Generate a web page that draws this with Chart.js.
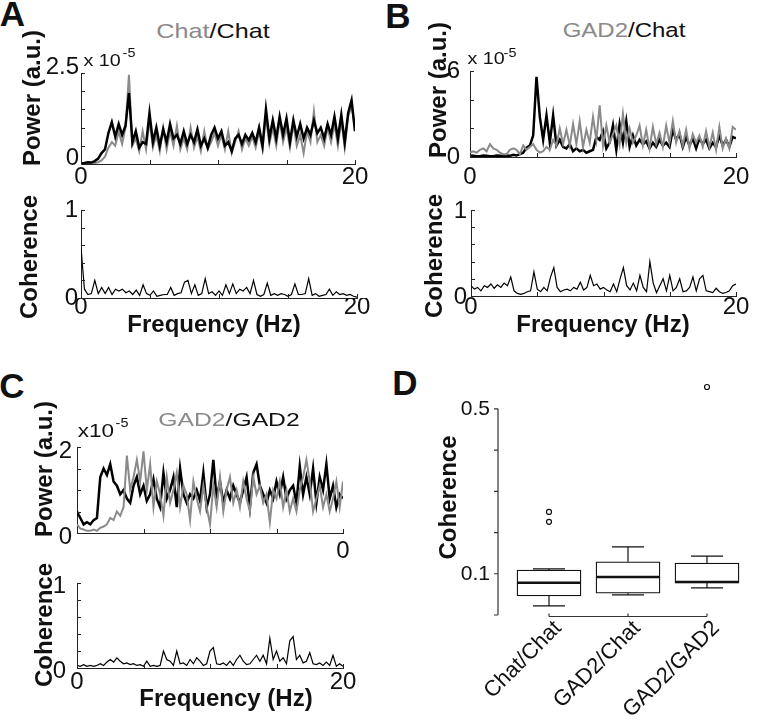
<!DOCTYPE html>
<html>
<head>
<meta charset="utf-8">
<script src="https://cdn.jsdelivr.net/npm/chart.js"></script>
<style>
body { margin: 0; background: #fff; }
#fig { position: relative; width: 758px; height: 721px; overflow: hidden; font-family: "Liberation Sans", Arial, sans-serif; color: #111; }
#fig canvas { position: absolute; }
.t { position: absolute; white-space: nowrap; line-height: 1; }
</style>
</head>
<body>
<div id="fig"></div>
<script>
// frequency axis of every spectrum (Hz)
var freqs = [0,0.25,0.5,0.75,1,1.25,1.5,1.75,2,2.25,2.5,2.75,3,3.25,3.5,3.75,4,4.25,4.5,4.75,
    5,5.25,5.5,5.75,6,6.25,6.5,6.75,7,7.25,7.5,7.75,8,8.25,8.5,8.75,9,9.25,9.5,9.75,
    10,10.25,10.5,10.75,11,11.25,11.5,11.75,12,12.25,12.5,12.75,13,13.25,13.5,13.75,14,14.25,14.5,14.75,
    15,15.25,15.5,15.75,16,16.25,16.5,16.75,17,17.25,17.5,17.75,18,18.25,18.5,18.75,19,19.25,19.5,19.75,20];

// power spectra, in units of 1e-5
var powerA_chat1 = [0.01,0.01,0.02,0.02,0.03,0.05,0.1,0.2,0.45,0.6,
    0.5,0.9,0.55,1.0,2.45,0.5,0.7,0.35,0.9,0.4,
    1.2,0.45,0.8,0.35,1.0,0.4,0.9,0.5,1.05,0.4,
    0.7,0.4,1.0,0.45,0.75,0.35,0.9,0.4,0.6,0.85,
    0.5,0.8,0.4,0.9,0.3,0.6,0.9,0.4,0.7,0.5,
    0.75,0.45,0.9,0.4,1.3,0.55,1.0,0.5,1.2,0.6,
    1.0,0.45,1.1,0.5,0.8,0.3,0.9,0.6,1.45,0.6,
    0.8,0.5,1.0,0.6,1.1,0.5,1.2,0.45,1.3,1.6,1.0];
var powerA_chat2 = [0.02,0.03,0.05,0.04,0.08,0.15,0.3,0.4,0.85,1.15,
    0.75,1.1,0.8,1.05,1.95,0.6,0.9,0.45,0.6,0.55,
    1.4,0.6,1.0,0.5,0.95,0.6,1.1,0.7,0.8,0.55,
    0.9,0.55,0.8,0.6,0.95,0.5,0.7,0.45,0.8,1.0,
    0.7,0.9,0.5,0.6,0.35,0.7,0.8,0.55,0.8,0.65,
    0.85,0.6,1.0,0.5,1.5,0.7,1.2,0.7,1.3,0.8,
    1.25,0.6,1.2,0.75,1.1,0.7,1.0,0.8,1.2,0.85,
    1.0,0.7,1.1,0.8,1.3,0.7,1.35,0.6,1.4,1.75,0.9];
var powerB_gad2 = [0.3,0.4,0.3,0.5,0.6,0.4,0.9,0.6,0.5,0.3,
    0.2,0.2,0.5,0.6,0.5,0.2,0.8,0.5,0.7,0.9,
    0.5,0.3,0.4,0.7,0.5,1.2,0.8,2.0,0.9,1.9,
    0.8,2.3,0.9,2.5,0.7,1.9,1.0,2.8,1.2,3.6,
    0.8,2.2,1.0,1.6,2.2,0.9,3.0,1.0,2.0,1.0,
    1.5,2.2,0.8,1.9,0.6,2.1,0.9,1.7,0.7,2.2,
    1.0,2.5,1.0,1.8,0.8,1.9,0.6,1.6,1.0,1.5,
    0.7,1.8,0.7,1.7,0.5,2.1,0.6,1.3,0.6,2.1,1.9];
var powerB_chat = [0.1,0.08,0.05,0.05,0.1,0.08,0.05,0.06,0.1,0.08,
    0.05,0.1,0.08,0.15,0.1,0.2,0.3,0.65,0.8,1.5,
    5.6,2.8,1.2,2.9,1.0,2.9,0.8,1.2,0.7,0.6,
    0.9,0.4,0.6,0.4,0.5,0.3,0.4,0.5,1.4,1.2,
    1.8,0.6,1.0,2.2,0.5,2.3,1.0,2.5,0.7,1.5,
    0.8,1.2,0.9,1.1,0.6,1.0,0.7,1.2,0.8,1.0,
    0.7,1.9,1.2,1.6,0.7,1.4,0.8,1.3,0.6,1.3,
    0.9,1.2,0.6,1.0,0.7,1.5,0.8,1.2,0.7,1.4,1.3];
var powerC_gad2a = [0.2,0.1,0.08,0.05,0.05,0.08,0.05,0.12,0.15,0.2,
    0.35,0.3,0.5,0.4,0.6,1.8,1.0,1.3,1.7,1.2,
    1.9,1.0,1.6,0.6,1.2,0.9,0.4,1.3,0.7,1.0,
    1.4,0.6,1.1,0.9,0.3,1.2,0.8,0.5,1.1,0.6,
    0.2,1.1,0.6,1.3,0.5,1.0,1.3,0.7,1.0,0.6,
    1.2,0.8,0.5,1.3,0.9,1.1,0.7,0.9,0.25,1.0,
    0.8,1.2,0.6,1.0,0.5,0.8,0.5,1.0,1.3,1.7,
    1.2,0.5,0.8,1.1,0.6,0.9,0.5,0.8,1.2,0.6,1.2];
var powerC_gad2b = [0.5,0.35,0.2,0.25,0.2,0.3,0.35,1.3,1.5,1.35,
    1.6,1.2,1.1,0.9,1.0,0.8,0.7,1.1,1.3,0.9,
    1.1,0.75,0.9,1.25,0.8,0.6,1.4,0.8,1.0,1.3,
    0.6,1.5,0.9,0.7,0.9,0.8,1.0,0.75,1.4,0.6,
    0.9,1.7,0.8,1.2,0.7,1.0,0.8,1.1,0.9,0.7,
    1.0,1.3,0.6,1.4,1.6,1.1,0.9,0.7,1.0,0.8,
    1.2,0.9,1.3,0.8,1.0,1.1,0.7,1.55,0.9,1.3,
    0.9,1.5,0.7,1.3,1.0,1.6,0.8,1.1,0.6,0.9,0.8];

// coherence spectra
var cohA = [0.57,0.1,0.04,0.05,0.2,0.05,0.12,0.05,0.12,0.04,
    0.1,0.08,0.1,0.06,0.08,0.04,0.09,0.03,0.15,0.05,
    0.03,0.08,0.02,0.03,0.04,0.04,0.12,0.03,0.05,0.06,
    0.18,0.2,0.05,0.15,0.03,0.05,0.22,0.05,0.07,0.03,
    0.08,0.03,0.15,0.05,0.16,0.05,0.1,0.08,0.12,0.05,
    0.2,0.04,0.02,0.04,0.17,0.03,0.05,0.03,0.05,0.04,
    0.02,0.04,0.16,0.04,0.04,0.05,0.22,0.03,0.05,0.02,
    0.03,0.04,0.1,0.03,0.07,0.04,0.05,0.03,0.04,0.02,0.01];
var cohB = [0.12,0.08,0.1,0.06,0.12,0.1,0.14,0.09,0.13,0.1,
    0.15,0.12,0.22,0.06,0.03,0.02,0.03,0.05,0.06,0.28,
    0.08,0.05,0.1,0.06,0.22,0.33,0.1,0.05,0.07,0.08,
    0.06,0.1,0.08,0.16,0.07,0.1,0.24,0.12,0.14,0.08,
    0.1,0.07,0.05,0.14,0.05,0.2,0.33,0.12,0.07,0.15,
    0.06,0.24,0.1,0.05,0.4,0.15,0.04,0.12,0.2,0.06,
    0.24,0.06,0.1,0.2,0.05,0.06,0.1,0.22,0.06,0.2,
    0.24,0.06,0.05,0.04,0.09,0.05,0.03,0.04,0.06,0.12,0.14];
var cohC = [0.03,0.02,0.04,0.02,0.03,0.02,0.03,0.05,0.03,0.07,
    0.1,0.07,0.12,0.08,0.05,0.06,0.04,0.05,0.03,0.04,
    0.02,0.08,0.02,0.03,0.02,0.03,0.2,0.1,0.08,0.03,
    0.2,0.05,0.06,0.03,0.1,0.05,0.12,0.08,0.03,0.05,
    0.2,0.24,0.05,0.04,0.06,0.03,0.08,0.03,0.1,0.15,
    0.08,0.04,0.05,0.1,0.15,0.08,0.15,0.05,0.35,0.1,
    0.2,0.08,0.12,0.05,0.32,0.37,0.1,0.15,0.06,0.08,
    0.18,0.05,0.04,0.06,0.03,0.07,0.03,0.15,0.02,0.05,0.02];

// tick values and their labels
var freqTicks = [0, 5, 10, 15, 20];
var freqTickText = ['0', '', '', '', '20'];
var freqTickTextC = ['', '', '', '', '0'];
var powerTicksA = [0, 0.5, 1, 1.5, 2, 2.5];
var powerTextA = ['0', '', '', '', '', '2.5'];
var powerTicksB = [0, 2, 4, 6];
var powerTextB = ['0', '', '', '6'];
var powerTicksC = [0, 0.5, 1, 1.5, 2];
var powerTextC = ['0', '', '', '', '2'];
var cohTicks = [0, 0.2, 0.4, 0.6, 0.8, 1];
var cohText = ['0', '', '', '', '', '1'];

// panel D box plot summary
var pairs = ['Chat/Chat', 'GAD2/Chat', 'GAD2/GAD2'];
var boxMin = [0.022, 0.049, 0.066];
var boxQ1 = [0.046, 0.053, 0.078];
var boxMedian = [0.078, 0.092, 0.080];
var boxQ3 = [0.109, 0.129, 0.126];
var boxMax = [0.112, 0.165, 0.143];
var boxOutliers = [[0.226, 0.25], [], [0.553]];
var cohBoxTicks = [0, 0.1, 0.2, 0.3, 0.4, 0.5];
var cohBoxText = ['', '0.1', '', '', '', '0.5'];

var fig = document.getElementById('fig');
var grey = '#8a8a8a';
var axisColor = '#222';
Chart.defaults.font.family = '"Liberation Sans", Arial, sans-serif';
Chart.defaults.color = '#111';

// matlab style ticks that point into the plot
var inwardTicks = {
    id: 'inwardTicks',
    afterDraw: function (chart) {
        var ctx = chart.ctx, a = chart.chartArea, x = chart.scales.x, y = chart.scales.y;
        ctx.save();
        ctx.strokeStyle = axisColor;
        ctx.lineWidth = 1;
        ctx.beginPath();
        x.ticks.forEach(function (t) {
            var px = Math.round(x.getPixelForValue(t.value)) + 0.5;
            ctx.moveTo(px, a.bottom);
            ctx.lineTo(px, a.bottom - 4);
        });
        y.ticks.forEach(function (t) {
            var py = Math.round(y.getPixelForValue(t.value)) + 0.5;
            ctx.moveTo(a.left, py);
            ctx.lineTo(a.left + 4, py);
        });
        ctx.stroke();
        ctx.restore();
    }
};

function addText(html, x, y, size, opt) {
    opt = opt || {};
    var d = document.createElement('div');
    d.className = 't';
    d.innerHTML = html;
    d.style.left = x + 'px';
    d.style.top = y + 'px';
    d.style.fontSize = size + 'px';
    d.style.fontWeight = opt.bold ? 'bold' : 'normal';
    if (opt.color) d.style.color = opt.color;
    d.style.transform = 'translate(-50%,-50%) rotate(' + (opt.rot || 0) + 'deg) scaleX(' + (opt.sx || 1) + ')';
    fig.appendChild(d);
}

// one spectrum panel, placed so its plot area is exactly "area"
// (top padding has to be larger than the half label + tick padding chart.js reserves)
function lineChart(area, datasets, yTicks, yText, xText, pad) {
    var wy = 40, hx = 34, padTop = 30, padRight = 26;
    var w = area.r - area.l + wy + padRight;
    var h = area.b - area.t + padTop + hx;
    var cv = document.createElement('canvas');
    cv.width = w; cv.height = h;
    cv.style.left = (area.l - wy) + 'px';
    cv.style.top = (area.t - padTop) + 'px';
    cv.style.width = w + 'px'; cv.style.height = h + 'px';
    fig.appendChild(cv);

    return new Chart(cv, {
        type: 'line',
        data: { labels: freqs, datasets: datasets },
        options: {
            responsive: false,
            animation: false,
            layout: { autoPadding: false, padding: { top: padTop, right: padRight, left: 0, bottom: 0 } },
            plugins: { legend: { display: false }, tooltip: { enabled: false } },
            elements: { point: { radius: 0 }, line: { tension: 0 } },
            scales: {
                x: {
                    type: 'linear', min: 0, max: 20,
                    afterFit: function (s) { s.height = hx; },
                    afterBuildTicks: function (s) { s.ticks = freqTicks.map(function (v) { return { value: v }; }); },
                    grid: { display: false, drawTicks: false },
                    border: { display: true, color: axisColor, width: 1 },
                    ticks: {
                        autoSkip: false, maxRotation: 0, padding: pad.x,
                        font: { size: 24, lineHeight: 1 },
                        callback: function (v, i) { return xText[i]; }
                    }
                },
                y: {
                    min: 0, max: yTicks[yTicks.length - 1],
                    afterFit: function (s) { s.width = wy; },
                    afterBuildTicks: function (s) { s.ticks = yTicks.map(function (v) { return { value: v }; }); },
                    grid: { display: false, drawTicks: false },
                    border: { display: true, color: axisColor, width: 1 },
                    ticks: {
                        autoSkip: false, padding: pad.y, labelOffset: pad.off,
                        font: { size: 24, lineHeight: 1 },
                        callback: function (v, i) { return yText[i]; }
                    }
                }
            }
        },
        plugins: [inwardTicks]
    });
}

function blackLine(d) { return { data: d, borderColor: '#000', borderWidth: 2.5 }; }
function greyLine(d) { return { data: d, borderColor: grey, borderWidth: 2 }; }
function cohLine(d) { return { data: d, borderColor: '#000', borderWidth: 1.2 }; }

// A
lineChart({ l: 81, r: 355, t: 73, b: 164 }, [blackLine(powerA_chat2), greyLine(powerA_chat1)],
    powerTicksA, powerTextA, freqTickText, { x: 1, y: 2, off: -6 });
lineChart({ l: 81, r: 357, t: 210, b: 298 }, [cohLine(cohA)],
    cohTicks, cohText, freqTickText, { x: -3, y: 3, off: 0 });
// B
lineChart({ l: 470, r: 736, t: 71, b: 157 }, [greyLine(powerB_gad2), blackLine(powerB_chat)],
    powerTicksB, powerTextB, freqTickText, { x: 8, y: 10, off: 0 });
lineChart({ l: 471, r: 736, t: 210, b: 296 }, [cohLine(cohB)],
    cohTicks, cohText, freqTickText, { x: -1, y: 4, off: 1 });
// C
lineChart({ l: 77, r: 343, t: 447, b: 533 }, [greyLine(powerC_gad2a), blackLine(powerC_gad2b)],
    powerTicksC, powerTextC, freqTickTextC, { x: 6, y: 5, off: 4 });
lineChart({ l: 77, r: 343, t: 583, b: 668 }, [cohLine(cohC)],
    cohTicks, cohText, freqTickText, { x: 2, y: 11, off: 3 });

// D: box plot, boxes are floating bars, whiskers and medians drawn from the scales
var boxParts = {
    id: 'boxParts',
    afterDatasetsDraw: function (chart) {
        var ctx = chart.ctx, a = chart.chartArea, x = chart.scales.x, y = chart.scales.y;
        ctx.save();
        ctx.strokeStyle = '#111';
        pairs.forEach(function (p, i) {
            var cx = x.getPixelForValue(i);
            ctx.lineWidth = 1.2;
            ctx.beginPath();
            ctx.moveTo(cx, y.getPixelForValue(boxQ3[i]));
            ctx.lineTo(cx, y.getPixelForValue(boxMax[i]));
            ctx.moveTo(cx, y.getPixelForValue(boxQ1[i]));
            ctx.lineTo(cx, y.getPixelForValue(boxMin[i]));
            ctx.moveTo(cx - 16, y.getPixelForValue(boxMax[i]));
            ctx.lineTo(cx + 16, y.getPixelForValue(boxMax[i]));
            ctx.moveTo(cx - 16, y.getPixelForValue(boxMin[i]));
            ctx.lineTo(cx + 16, y.getPixelForValue(boxMin[i]));
            ctx.stroke();
            ctx.lineWidth = 2.5;
            ctx.beginPath();
            ctx.moveTo(cx - 32, y.getPixelForValue(boxMedian[i]));
            ctx.lineTo(cx + 32, y.getPixelForValue(boxMedian[i]));
            ctx.stroke();
        });
        // detached axes, R style
        ctx.strokeStyle = '#333';
        ctx.lineWidth = 1.2;
        ctx.beginPath();
        var ax = a.left - 11.5;
        ctx.moveTo(ax, y.getPixelForValue(cohBoxTicks[0]));
        ctx.lineTo(ax, y.getPixelForValue(cohBoxTicks[cohBoxTicks.length - 1]));
        cohBoxTicks.forEach(function (v) {
            var py = y.getPixelForValue(v);
            ctx.moveTo(ax, py);
            ctx.lineTo(ax - 4, py);
        });
        var by = y.getPixelForValue(0) + 1.5;
        ctx.moveTo(x.getPixelForValue(0), by);
        ctx.lineTo(x.getPixelForValue(pairs.length - 1), by);
        pairs.forEach(function (p, i) {
            var px = x.getPixelForValue(i);
            ctx.moveTo(px, by);
            ctx.lineTo(px, by - 3);
        });
        ctx.stroke();
        ctx.restore();
    }
};

var outlierPts = [];
pairs.forEach(function (p, i) {
    boxOutliers[i].forEach(function (v) { outlierPts.push({ x: p, y: v }); });
});

var cvD = document.createElement('canvas');
cvD.width = 333; cvD.height = 371;
cvD.style.left = '430px'; cvD.style.top = '350px';
cvD.style.width = '333px'; cvD.style.height = '371px';
fig.appendChild(cvD);

new Chart(cvD, {
    type: 'bar',
    data: {
        labels: pairs,
        datasets: [
            {
                type: 'line', data: outlierPts, showLine: false, clip: false,
                pointRadius: 2.5, pointBorderWidth: 1.2,
                pointBackgroundColor: '#fff', pointBorderColor: '#111'
            },
            {
                data: pairs.map(function (p, i) { return [boxQ1[i], boxQ3[i]]; }),
                backgroundColor: '#fff', borderColor: '#111', borderWidth: 1.3,
                borderSkipped: false, barThickness: 64
            }
        ]
    },
    options: {
        responsive: false,
        animation: false,
        layout: { autoPadding: false, padding: { top: 30, right: 16.5, left: 0, bottom: 0 } },
        plugins: { legend: { display: false }, tooltip: { enabled: false } },
        scales: {
            x: {
                afterFit: function (s) { s.height = 106; },
                grid: { display: false, drawTicks: false },
                border: { display: false },
                ticks: { minRotation: 45, maxRotation: 45, padding: 2, labelOffset: 9, font: { size: 22, lineHeight: 1 } }
            },
            y: {
                min: 0, max: 0.57,
                afterFit: function (s) { s.width = 79.5; },
                afterBuildTicks: function (s) { s.ticks = cohBoxTicks.map(function (v) { return { value: v }; }); },
                grid: { display: false, drawTicks: false },
                border: { display: false },
                title: { display: true, text: 'Coherence', font: { size: 24, weight: 'bold', lineHeight: 1 }, padding: { top: 7, bottom: 0 } },
                ticks: {
                    padding: 19.5, font: { size: 21, lineHeight: 1 },
                    callback: function (v, i) { return cohBoxText[i]; }
                }
            }
        }
    },
    plugins: [boxParts]
});

// panel letters, titles and axis names
addText('A', 12.5, 12.5, 35, { bold: true });
addText('B', 398, 14.5, 35, { bold: true });
addText('C', 12, 384.5, 35, { bold: true });
addText('D', 405, 381.5, 35, { bold: true });

addText('<span style="color:' + grey + '">Chat</span>/Chat', 213, 30, 21, { sx: 1.2 });
addText('<span style="color:' + grey + '">GAD2</span>/Chat', 623.5, 30, 20, { sx: 1.2 });
addText('<span style="color:' + grey + '">GAD2</span>/GAD2', 228.5, 418.5, 19, { sx: 1.3 });

addText('x 10', 101.5, 60.5, 16, { sx: 1.23 });
addText('-5', 129, 52.5, 12, { sx: 1.2 });
addText('x 10', 485.5, 59, 16, { sx: 1.23 });
addText('-5', 510, 52.5, 12, { sx: 1.2 });
addText('x10', 96, 431, 18, { sx: 1.25 });
addText('-5', 121.5, 422.5, 12, { sx: 1.2 });

addText('Power (a.u.)', 32, 97.5, 24, { bold: true, rot: -90 });
addText('Power (a.u.)', 437.5, 90, 24, { bold: true, rot: -90 });
addText('Power (a.u.)', 44, 468.5, 24, { bold: true, rot: -90 });
addText('Coherence', 29, 257, 24, { bold: true, rot: -90 });
addText('Coherence', 434, 256, 24, { bold: true, rot: -90 });
addText('Coherence', 44, 625, 24, { bold: true, rot: -90 });
addText('Frequency (Hz)', 214, 324, 24, { bold: true });
addText('Frequency (Hz)', 603, 324, 24, { bold: true });
addText('Frequency (Hz)', 226, 698, 24, { bold: true });
</script>
</body>
</html>
